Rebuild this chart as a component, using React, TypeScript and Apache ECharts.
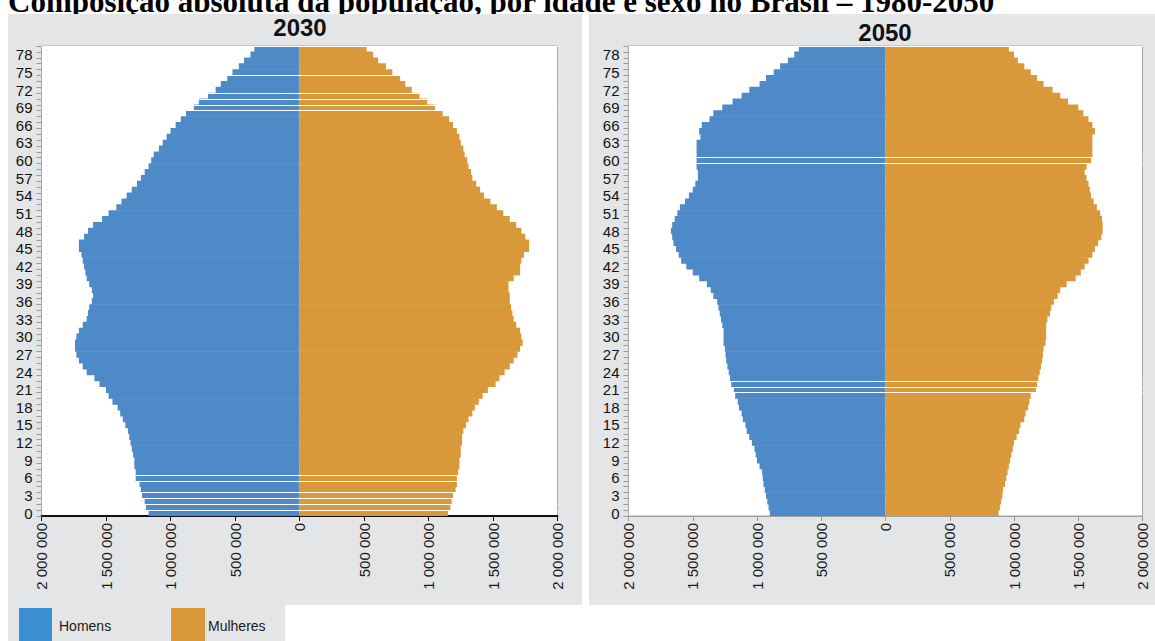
import React, { useEffect, useRef } from "react";
import * as echarts from "echarts";

// Ages 0..79 (categories)
const ages: string[] = Array.from({ length: 80 }, (_, i) => String(i));

// Population in thousands, by age 0..79
const men2030 = [
  1170, 1190, 1200, 1220, 1230, 1240, 1270, 1270, 1280, 1280,
  1290, 1300, 1310, 1320, 1330, 1350, 1370, 1390, 1410, 1450,
  1480, 1500, 1550, 1590, 1650, 1680, 1710, 1730, 1740, 1740,
  1730, 1710, 1680, 1650, 1640, 1630, 1610, 1600, 1610, 1630,
  1650, 1660, 1670, 1680, 1690, 1710, 1710, 1670, 1640, 1600,
  1530, 1480, 1420, 1380, 1340, 1300, 1260, 1230, 1200, 1170,
  1150, 1130, 1090, 1060, 1030, 1000, 960, 920, 880, 820,
  780, 710, 650, 610, 560, 520, 470, 430, 380, 350,
];
const women2030 = [
  1150, 1170, 1180, 1190, 1210, 1220, 1220, 1230, 1240, 1240,
  1250, 1250, 1260, 1260, 1270, 1290, 1310, 1340, 1360, 1390,
  1420, 1460, 1520, 1550, 1590, 1630, 1660, 1690, 1710, 1730,
  1720, 1710, 1680, 1660, 1650, 1640, 1630, 1630, 1620, 1620,
  1660, 1710, 1710, 1720, 1740, 1780, 1780, 1750, 1720, 1680,
  1630, 1580, 1530, 1480, 1430, 1400, 1370, 1340, 1330, 1310,
  1300, 1280, 1270, 1250, 1240, 1220, 1190, 1160, 1110, 1050,
  990, 930, 870, 820, 780, 720, 670, 610, 570, 520,
];
const men2050 = [
  900, 910, 920, 930, 940, 950, 955, 960, 980, 1000,
  1010, 1020, 1040, 1060, 1080, 1090, 1110, 1120, 1140, 1150,
  1170, 1180, 1200, 1210, 1220, 1230, 1240, 1245, 1250, 1260,
  1260, 1260, 1270, 1280, 1290, 1300, 1310, 1340, 1360, 1390,
  1450, 1500, 1550, 1590, 1610, 1630, 1650, 1660, 1670, 1660,
  1640, 1620, 1600, 1560, 1530, 1500, 1480, 1460, 1460, 1470,
  1470, 1470, 1470, 1470, 1440, 1450, 1430, 1370, 1340, 1270,
  1190, 1120, 1060, 980, 930, 870, 820, 760, 710, 675,
];
const women2050 = [
  880, 890, 900, 910, 915, 930, 940, 950, 960, 970,
  980, 990, 1000, 1020, 1040, 1050, 1080, 1090, 1110, 1120,
  1130, 1170, 1180, 1190, 1200, 1210, 1220, 1225, 1230, 1245,
  1250, 1250, 1250, 1260, 1280, 1290, 1310, 1340, 1360, 1410,
  1480, 1520, 1550, 1580, 1610, 1630, 1655, 1680, 1690, 1690,
  1685, 1670, 1645, 1620, 1600, 1590, 1580, 1565, 1550, 1565,
  1600, 1610, 1610, 1610, 1610, 1630, 1610, 1580, 1540, 1500,
  1420, 1360, 1300, 1230, 1180, 1130, 1080, 1030, 1000, 960,
];

// Category boundaries drawn as thin white lines (index i = boundary below age i)
const gaps2030 = [1, 2, 3, 4, 6, 7, 69, 70, 71, 72, 75];
const gaps2050 = [21, 22, 23, 60, 61];

const years = ["2030", "2050"];
const seriesNames = ["Homens", "Mulheres"];

const BLUE = "#4e8ac8";
const ORANGE = "#d9983a";
const PANEL = "#e4e5e7";

const fmt = (v: number) =>
  String(Math.abs(v)).replace(/\B(?=(\d{3})+(?!\d))/g, " ");

export default function App() {
  const ref = useRef<HTMLDivElement>(null);

  useEffect(() => {
    if (!ref.current) return;
    const chart = echarts.init(ref.current, undefined, { renderer: "svg" });

    const grids = [
      { left: 41.5, top: 46, width: 516, height: 470 },
      { left: 628.5, top: 46, width: 514, height: 470 },
    ];

    const xAxes = [0, 1].map((g) => ({
      type: "value",
      gridIndex: g,
      min: -2000000,
      max: 2000000,
      interval: 500000,
      splitLine: { show: false },
      axisLine: {
        show: true,
        onZero: false,
        lineStyle: g === 0 ? { color: "#111", width: 2 } : { color: "#a0a0a0", width: 1 },
      },
      axisTick: {
        show: true,
        length: 5,
        lineStyle: { color: g === 0 ? "#111" : "#999" },
      },
      axisLabel: {
        rotate: 90,
        margin: 7,
        fontSize: 15,
        color: "#1a1a1a",
        fontFamily: "Liberation Sans, Arial, sans-serif",
        formatter: (v: number) => fmt(v),
      },
    }));

    const gapSets = [new Set(gaps2030), new Set(gaps2050)];
    const yAxes: any[] = [];
    [0, 1].forEach((g) => {
      yAxes.push({
        type: "category",
        gridIndex: g,
        data: ages,
        position: "left",
        axisLine: { show: false },
        axisTick: {
          show: true,
          alignWithLabel: true,
          interval: 0,
          length: 5,
          lineStyle: { color: "#9a9a9a" },
        },
        axisLabel: {
          interval: (i: number) => i % 3 === 0,
          fontSize: 15,
          margin: 9,
          color: "#111",
          fontFamily: "Liberation Sans, Arial, sans-serif",
        },
        splitLine: { show: false },
      });
      yAxes.push({
        type: "category",
        gridIndex: g,
        data: ages,
        position: "left",
        offset: 0,
        z: 10,
        axisLine: { show: false },
        axisTick: {
          show: true,
          interval: 0,
          length: 5,
          lineStyle: { color: "#9a9a9a" },
        },
        axisLabel: { show: false },
        splitLine: {
          show: true,
          interval: (i: number) => gapSets[g].has(i),
          lineStyle: { color: "#ffffff", width: 1.2 },
        },
      });
    });

    const mk = (name: string, vals: number[], g: number, sign: number, color: string) => ({
      name,
      type: "bar",
      xAxisIndex: g,
      yAxisIndex: g * 2,
      stack: "s" + g,
      barWidth: "112%",
      itemStyle: { color },
      emphasis: { disabled: true },
      data: vals.map((v) => sign * v * 1000),
    });

    const series = [
      mk(seriesNames[0], men2030, 0, -1, BLUE),
      mk(seriesNames[1], women2030, 0, 1, ORANGE),
      mk(seriesNames[0], men2050, 1, -1, BLUE),
      mk(seriesNames[1], women2050, 1, 1, ORANGE),
    ];

    const graphic: any[] = [
      {
        type: "text",
        z: -200,
        x: 8,
        y: 1,
        style: {
          text: "Composição absoluta da população, por idade e sexo no Brasil – 1980-2050",
          fontFamily: "Liberation Serif, Times New Roman, serif",
          fontWeight: "bold",
          fontSize: 31,
          fill: "#000",
          verticalAlign: "middle",
        },
      },
      { type: "rect", z: -100, shape: { x: 8, y: 14, width: 574, height: 591 }, style: { fill: PANEL } },
      { type: "rect", z: -100, shape: { x: 589, y: 14, width: 566, height: 591 }, style: { fill: PANEL } },
      { type: "rect", z: -100, shape: { x: 8, y: 604, width: 277, height: 37 }, style: { fill: PANEL } },
      {
        type: "text",
        z: 100,
        x: 300,
        y: 27,
        style: {
          text: years[0],
          fontFamily: "Liberation Sans, Arial, sans-serif",
          fontWeight: "bold",
          fontSize: 24,
          fill: "#111",
          align: "center",
          verticalAlign: "middle",
        },
      },
      {
        type: "text",
        z: 100,
        x: 885,
        y: 32,
        style: {
          text: years[1],
          fontFamily: "Liberation Sans, Arial, sans-serif",
          fontWeight: "bold",
          fontSize: 24,
          fill: "#111",
          align: "center",
          verticalAlign: "middle",
        },
      },
      { type: "rect", z: 100, shape: { x: 19, y: 608, width: 33, height: 40 }, style: { fill: "#3a8fd3" } },
      {
        type: "text",
        z: 100,
        x: 59,
        y: 626,
        style: {
          text: seriesNames[0],
          fontFamily: "Liberation Sans, Arial, sans-serif",
          fontSize: 14,
          fill: "#1a1a1a",
          verticalAlign: "middle",
        },
      },
      { type: "rect", z: 100, shape: { x: 171, y: 608, width: 34, height: 40 }, style: { fill: ORANGE } },
      {
        type: "text",
        z: 100,
        x: 208,
        y: 626,
        style: {
          text: seriesNames[1],
          fontFamily: "Liberation Sans, Arial, sans-serif",
          fontSize: 14,
          fill: "#1a1a1a",
          verticalAlign: "middle",
        },
      },
    ];

    chart.setOption({
      animation: false,
      backgroundColor: "#ffffff",
      grid: grids.map((gr) => ({
        ...gr,
        show: true,
        backgroundColor: "#ffffff",
        borderColor: "#a8a8a8",
        borderWidth: 1,
        containLabel: false,
      })),
      xAxis: xAxes,
      yAxis: yAxes,
      series,
      graphic,
    });

    return () => chart.dispose();
  }, []);

  return (
    <div
      ref={ref}
      style={{ position: "fixed", left: 0, top: 0, width: 1155, height: 641 }}
    />
  );
}
